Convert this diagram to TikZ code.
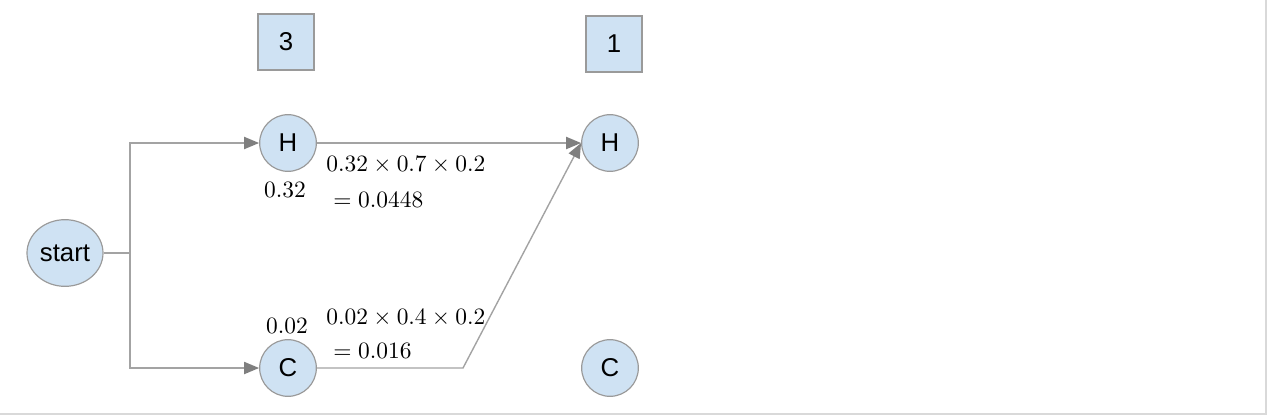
\documentclass[tikz,border=0pt]{standalone}
\usepackage{amsmath}
\usepackage{fontspec}
\newfontfamily\labelfont{Liberation Sans}
\usetikzlibrary{arrows.meta}
\usetikzlibrary{positioning}
\usetikzlibrary{shapes.geometric}
\usetikzlibrary{calc}

\definecolor{statefill}{HTML}{CFE2F3}
\definecolor{stateline}{HTML}{9A9A9A}
\definecolor{linkgray}{HTML}{A3A3A3}
\definecolor{tipgray}{HTML}{7F7F7F}
\definecolor{framegray}{HTML}{D9D9D9}

\begin{document}
\begin{tikzpicture}[
    x = 0.015cm, y = -0.015cm,
    >={Triangle[length=6.4pt, width=5.2pt, color=tipgray]},
    statenode/.style = {
        circle, draw = stateline, fill = statefill, line width = 0.5pt,
        minimum size = 0.85cm, inner sep = 0pt,
        font = \labelfont\fontsize{11}{13}\selectfont
    },
    countbox/.style = {
        rectangle, draw = stateline, fill = statefill, line width = 0.5pt,
        minimum size = 0.84cm, inner sep = 0pt,
        font = \labelfont\fontsize{11}{13}\selectfont
    },
    prob/.style = {inner sep = 0pt, anchor = west},
    link/.style = {draw = linkgray, line width = 0.6pt},
  ]
  \useasboundingbox (0,0) rectangle (1267,415);
  \draw[framegray, line width = 0.9pt] (0,414) -- (1266,414) -- (1266,0);

  % counts
  \node[countbox] (count3) at (286,42) {3};
  \node[countbox] (count1) at (614,44) {1};

  % states
  \node[
      ellipse, draw = stateline, fill = statefill, line width = 0.5pt,
      minimum width = 1.14cm, minimum height = 1.0cm, inner sep = 0pt,
      font = \labelfont\fontsize{11}{13}\selectfont
  ] (start) at (65,253) {start};
  \node[statenode] (h1) at (288,143) {H};
  \node[statenode] (c1) at (288,368) {C};
  \node[statenode] (h2) at (610,143) {H};
  \node[statenode] (c2) at (610,368) {C};

  \coordinate (split) at (130,253);
  \coordinate (bend) at (463,368);

  \draw[link] (start.east) -- (split);
  \draw[link, ->] (split) |- (h1.west);
  \draw[link, ->] (split) |- (c1.west);
  \draw[link, ->] (h1.east) -- (h2.west);
  \draw[link, ->] (c1.east) -- (bend) -- (h2.west);

  % probabilities
  \node (ph1) at (285,190) {\(0.32\)};
  \node (pc1) at (287,326) {\(0.02\)};
  \node[prob] (ph2a) at (326,165) {\(0.32 \times 0.7 \times 0.2\)};
  \node[prob] (ph2b) at (333,200) {\({=}\;0.0448\)};
  \node[prob] (pc2a) at (326,318) {\(0.02 \times 0.4 \times 0.2\)};
  \node[prob] (pc2b) at (333,351) {\({=}\;0.016\)};
\end{tikzpicture}
\end{document}
